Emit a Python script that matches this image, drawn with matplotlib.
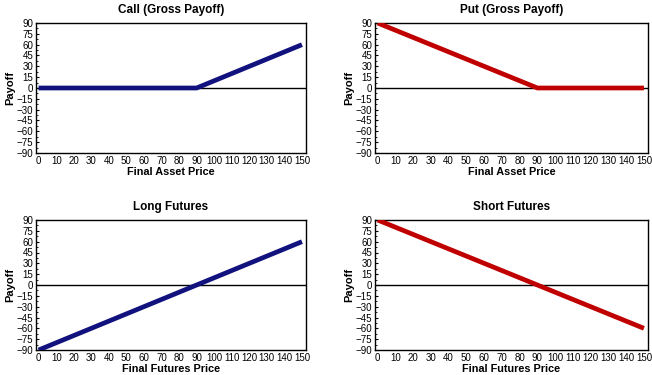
import matplotlib
matplotlib.use("Agg")
import matplotlib.pyplot as plt
from matplotlib.ticker import MultipleLocator

plt.rcParams['font.family'] = ['Liberation Sans', 'DejaVu Sans']

# final price at expiry (every 10)
prices = [0, 10, 20, 30, 40, 50, 60, 70, 80, 90, 100, 110, 120, 130, 140, 150]

call_payoff = [0, 0, 0, 0, 0, 0, 0, 0, 0, 0, 10, 20, 30, 40, 50, 60]
put_payoff = [90, 80, 70, 60, 50, 40, 30, 20, 10, 0, 0, 0, 0, 0, 0, 0]
long_payoff = [-90, -80, -70, -60, -50, -40, -30, -20, -10, 0, 10, 20, 30, 40, 50, 60]
short_payoff = [90, 80, 70, 60, 50, 40, 30, 20, 10, 0, -10, -20, -30, -40, -50, -60]

titles = ['Call (Gross Payoff)', 'Put (Gross Payoff)', 'Long Futures', 'Short Futures']
xlabels = ['Final Asset Price', 'Final Asset Price', 'Final Futures Price', 'Final Futures Price']
series = [call_payoff, put_payoff, long_payoff, short_payoff]
colors = ['#12127e', '#c00000', '#12127e', '#c00000']

W, H = 652, 375
fig = plt.figure(figsize=(W / 100, H / 100), dpi=100)

# axes boxes in pixels: left, top, right, bottom
boxes = [(36, 23, 306, 153), (375, 23, 648, 153),
         (36, 220, 306, 350), (375, 220, 648, 350)]

for box, title, xl, ys, col in zip(boxes, titles, xlabels, series, colors):
    l, t, r, b = box
    ax = fig.add_axes([l / W, 1 - b / H, (r - l) / W, (b - t) / H])
    ax.plot(prices, ys, color=col, lw=3.4, solid_capstyle='butt', zorder=3)
    ax.axhline(0, color='black', lw=1, zorder=2)
    ax.set_xlim(-1.5, 152.3)
    ax.set_ylim(-90, 90)
    ax.set_xticks(range(0, 151, 10))
    ax.set_yticks(range(-90, 91, 15))
    ax.yaxis.set_minor_locator(MultipleLocator(7.5))
    ax.tick_params(axis='both', which='major', labelsize=7, direction='in', width=0.8)
    ax.tick_params(axis='x', length=0, pad=2)
    ax.tick_params(axis='y', which='major', length=2.5, pad=2)
    ax.tick_params(axis='y', which='minor', direction='in', length=1.5, width=0.6)
    for s in ax.spines.values():
        s.set_linewidth(1)
    ax.set_title(title, fontsize=8.5, fontweight='bold', pad=7)
    ax.set_xlabel(xl, fontsize=7.8, fontweight='bold', labelpad=1)
    ax.set_ylabel('Payoff', fontsize=8, fontweight='bold', labelpad=1)

fig.savefig('out.png', dpi=100)
